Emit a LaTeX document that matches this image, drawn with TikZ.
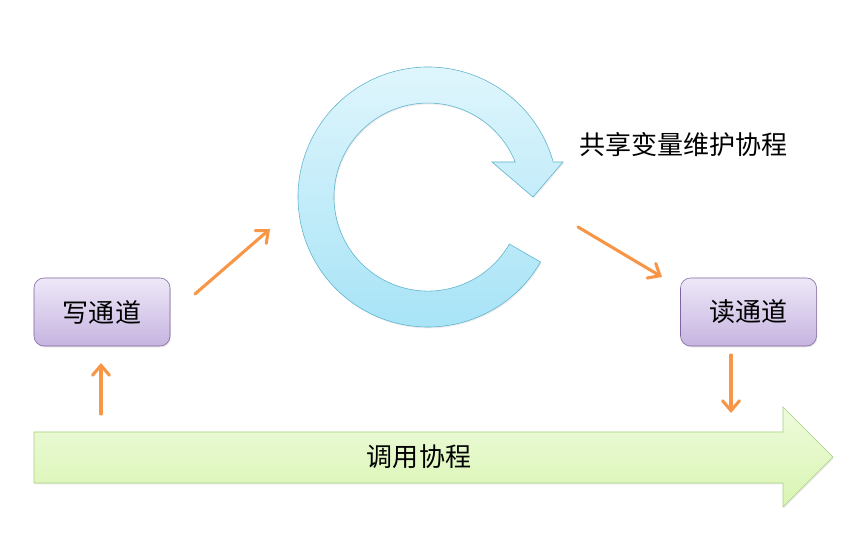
\documentclass[tikz,border=0pt]{standalone}
\usepackage{fontspec}
\setmainfont{Noto Sans CJK SC}
\usetikzlibrary{arrows.meta,shadows}
\definecolor{boxtop}{HTML}{EEE8F8}
\definecolor{boxbot}{HTML}{C6B4E0}
\definecolor{boxline}{HTML}{8064A2}
\definecolor{cyctop}{HTML}{E3F7FD}
\definecolor{cycbot}{HTML}{A4E2F6}
\definecolor{cycline}{HTML}{5DB3CC}
\definecolor{bartop}{HTML}{EEFBDC}
\definecolor{barbot}{HTML}{D9F5B2}
\definecolor{barline}{HTML}{A6CF7E}
\definecolor{flowc}{HTML}{F79646}

\begin{document}
\begin{tikzpicture}[x=0.025cm, y=0.025cm, outer sep=0pt]
\tikzstyle{box}=[draw=boxline, top color=boxtop, bottom color=boxbot, rounded corners=0.25cm,
    minimum width=3.4cm, minimum height=1.7cm, text centered, font=\fontsize{18.5}{22}\selectfont,
    drop shadow={opacity=0.2, shadow xshift=0.6pt, shadow yshift=-1pt}]
\tikzstyle{flow}=[draw=flowc, line width=2.2pt, line cap=round,
    -{Straight Barb[length=7pt, width=12pt, line cap=round]}]
\tikzstyle{txt}=[font=\fontsize{18.5}{22}\selectfont]
    \useasboundingbox (0,0) rectangle (859,538);
    % call coroutine bar
    \draw[draw=barline, top color=bartop, bottom color=barbot,
        drop shadow={opacity=0.15, shadow xshift=0.6pt, shadow yshift=-1pt}]
        (34,106) -- (783,106) -- (783,131) -- (833,81) -- (783,31) -- (783,55) -- (34,55) -- cycle;
    \node (call) [txt] at (419,81) {调用协程};
    % cycle arrow
    \draw[draw=cycline, top color=cyctop, bottom color=cycbot,
        drop shadow={opacity=0.15, shadow xshift=0.6pt, shadow yshift=-1pt}]
        (428,341) ++(-30:130) arc[start angle=-30, end angle=-344.4, radius=130]
        -- (563,376) -- (533,341) -- (492,376) -- (515.2,376)
        arc[start angle=21.9, end angle=330, radius=94] -- cycle;
    \node (share) [txt, anchor=west] at (575,393) {共享变量维护协程};
    % channels
    \node (f1) [box] at (102,226) {写通道};
    \node (f2) [box] at (748.5,226) {读通道};
    \coordinate (a1) at (195,244);
    \coordinate (a2) at (270,309);
    \coordinate (b1) at (578,311);
    \coordinate (b2) at (662,261);
    \coordinate (c1) at (101,124);
    \coordinate (c2) at (101,175);
    \coordinate (d1) at (731,183);
    \coordinate (d2) at (731,125);
    \draw[flow] (a1) -- (a2);
    \draw[flow] (b1) -- (b2);
    \draw[flow] (c1) -- (c2);
    \draw[flow] (d1) -- (d2);
\end{tikzpicture}
\end{document}
